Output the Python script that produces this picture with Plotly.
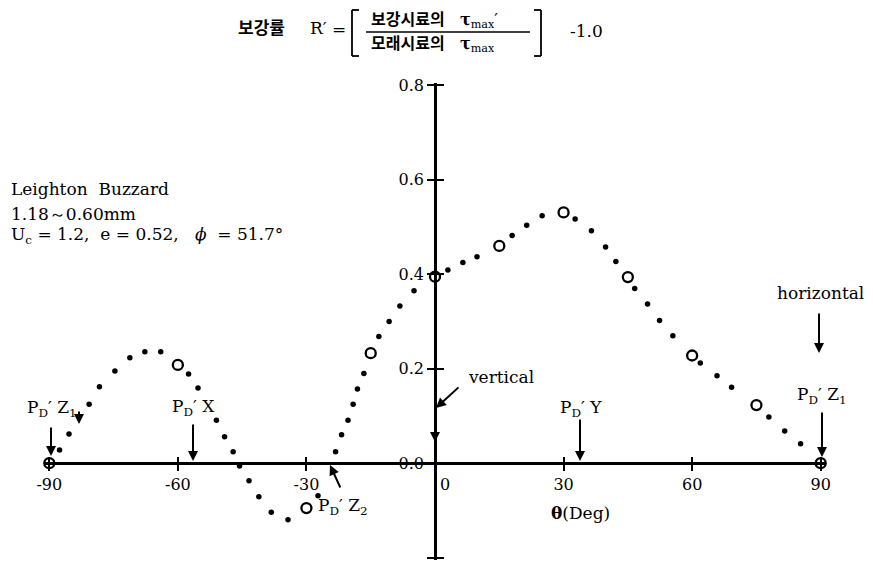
import plotly.graph_objects as go

# measured points (open circles)
theta_meas = [-90, -60, -30, -15, 0, 15, 30, 45, 60, 75, 90]
r_meas = [0.0, 0.208, -0.095, 0.233, 0.395, 0.46, 0.531, 0.394, 0.228, 0.123, 0.0]

# dotted trend (small filled dots)
theta_dots = [-87.6, -85.4, -80.7, -78.3, -74.7, -71.2, -67.7, -64.0, -57.5, -55.3,
              -51.0, -49.1, -47.1, -45.6, -43.4, -41.1, -38.2, -34.3, -27.3, -23.2,
              -21.8, -20.3, -19.1, -18.1, -16.6, -13.1, -10.7, -8.2, -4.9, 3.0,
              6.5, 9.8, 18.0, 21.4, 25.0, 32.7, 36.5, 39.8, 42.2, 46.6,
              49.6, 52.4, 55.5, 61.9, 65.8, 69.2, 77.9, 81.6, 85.3]
r_dots = [0.028, 0.062, 0.125, 0.162, 0.195, 0.223, 0.236, 0.236, 0.189, 0.159,
          0.091, 0.056, 0.024, -0.006, -0.037, -0.071, -0.104, -0.120, -0.069, 0.024,
          0.060, 0.091, 0.125, 0.157, 0.190, 0.268, 0.300, 0.333, 0.365, 0.409,
          0.425, 0.437, 0.482, 0.504, 0.524, 0.517, 0.492, 0.458, 0.427, 0.370,
          0.337, 0.302, 0.270, 0.212, 0.185, 0.161, 0.098, 0.068, 0.041]

x_ticks = [-90, -60, -30, 0, 30, 60, 90]
x_ticktext = ["-90", "-60", "-30", "\u00a0\u00a0\u00a0\u00a00", "30", "60", "90"]
y_ticks = [-0.2, 0.0, 0.2, 0.4, 0.6, 0.8]
y_ticktext = ["-0.2", "0.0", "0.2", "0.4", "0.6", "0.8"]

# page body has an 8px margin, so the figure is drawn 8px in from the corner
OX, OY = 8, 8
W, H = 865, 553
L, R, T, B = 37, 48, 75, 1
XR = [-91, 91]
YR = [-0.205, 0.805]
SERIF = "DejaVu Serif"
KR = "DejaVu Serif, Noto Sans CJK KR"


def px(x):
    # screen pixel -> paper
    return (x - OX - L) / (W - L - R)


def py(y):
    return 1 - (y - OY - T) / (H - T - B)


fig = go.Figure()
fig.add_trace(go.Scatter(x=theta_dots, y=r_dots, mode="markers",
                         marker=dict(size=5.5, color="black"),
                         cliponaxis=False, showlegend=False))
fig.add_trace(go.Scatter(x=theta_meas, y=r_meas, mode="markers",
                         marker=dict(size=10, color="white", symbol="circle",
                                     line=dict(color="black", width=2.3)),
                         cliponaxis=False, showlegend=False))
# empty trace so the overlay axes (inside tick marks) get drawn
fig.add_trace(go.Scatter(x=[], y=[], xaxis="x2", yaxis="y2", showlegend=False))

xpos = (0 - YR[0]) / (YR[1] - YR[0])
ypos = (0 - XR[0]) / (XR[1] - XR[0])

axfont = dict(family=SERIF, size=16, color="black")
fig.update_layout(
    width=W, height=H,
    margin=dict(l=L, r=R, t=T, b=B),
    plot_bgcolor="white", paper_bgcolor="white",
    xaxis=dict(range=XR, anchor="free", position=xpos, showgrid=False,
               zeroline=False, showline=True, linecolor="black", linewidth=2.5,
               ticks="outside", ticklen=6, tickwidth=2, tickcolor="black",
               tickvals=x_ticks, ticktext=x_ticktext, tickfont=axfont),
    yaxis=dict(range=YR, anchor="free", position=ypos, showgrid=False,
               zeroline=False, showline=True, linecolor="black", linewidth=2.5,
               ticks="outside", ticklen=7, tickwidth=2, tickcolor="black",
               tickvals=y_ticks, ticktext=y_ticktext, tickfont=axfont),
    xaxis2=dict(range=XR, overlaying="x", anchor="free", position=xpos,
                showgrid=False, zeroline=False, showline=False,
                ticks="inside", ticklen=6, tickwidth=2, tickcolor="black",
                tickvals=x_ticks, showticklabels=False),
    yaxis2=dict(range=YR, overlaying="y", anchor="free", position=ypos,
                showgrid=False, zeroline=False, showline=False,
                ticks="inside", ticklen=8, tickwidth=2, tickcolor="black",
                tickvals=y_ticks, showticklabels=False),
)


def label(text, x, y, size=17, xanchor="center", family=SERIF):
    fig.add_annotation(text=text, x=px(x), y=py(y), xref="paper", yref="paper",
                       xanchor=xanchor, yanchor="middle", showarrow=False,
                       font=dict(family=family, size=size, color="black"))


def arrow(x0, y0, x1, y1):
    # tail (x0, y0) -> head (x1, y1), screen pixels
    fig.add_annotation(text="", x=px(x1), y=py(y1), xref="paper", yref="paper",
                       ax=x0 - x1, ay=y0 - y1, showarrow=True,
                       arrowhead=2, arrowsize=1, arrowwidth=2,
                       arrowcolor="black", standoff=0)


# title: 보강률 R' = [ 보강시료의 τmax' / 모래시료의 τmax ] -1.0
label("<b>보강률</b>", 236, 28, size=17, xanchor="left", family=KR)
label("R\u2032", 308, 28, size=17, xanchor="left")
label("=", 330, 29, size=17, xanchor="left")
label("<b>보강시료의</b>\u00a0\u00a0\u00a0<b>τ</b><sub>max</sub>\u2032", 369, 21, size=16,
      xanchor="left", family=KR)
label("<b>모래시료의</b>\u00a0\u00a0\u00a0<b>τ</b><sub>max</sub>", 369, 45, size=16,
      xanchor="left", family=KR)
label("-1.0", 568, 31, size=17, xanchor="left")

bracket = dict(color="black", width=1.8)
for xs, xe in [(352, 359), (541, 534)]:
    fig.add_shape(type="line", xref="paper", yref="paper",
                  x0=px(xs), x1=px(xs), y0=py(10), y1=py(56), line=bracket)
    fig.add_shape(type="line", xref="paper", yref="paper",
                  x0=px(xs), x1=px(xe), y0=py(10), y1=py(10), line=bracket)
    fig.add_shape(type="line", xref="paper", yref="paper",
                  x0=px(xs), x1=px(xe), y0=py(56), y1=py(56), line=bracket)
fig.add_shape(type="line", xref="paper", yref="paper",
              x0=px(366), x1=px(530), y0=py(32), y1=py(32),
              line=dict(color="black", width=1.5))

# sample description
label("Leighton  Buzzard", 9, 189, xanchor="left")
label("1.18\uff5e0.60mm", 9, 214, xanchor="left")
label("U<sub>c</sub> = 1.2,  e = 0.52,   <i>ϕ</i>  = 51.7°", 9, 236, xanchor="left")

# axis title
label("<b>θ</b>(Deg)", 580, 513)

# direction labels and arrows
label("P<sub>D</sub>\u2032 Z<sub>1</sub>", 52, 408)
arrow(51, 426, 51, 456)
arrow(79, 410, 79, 424)

label("P<sub>D</sub>\u2032 X", 193, 407)
arrow(193, 423, 193, 461)

label("P<sub>D</sub>\u2032 Z<sub>2</sub>", 343, 506)
arrow(341, 489, 330, 465)

label("vertical", 466, 377, xanchor="left")
arrow(460, 386, 436, 408)
arrow(435, 413, 435, 442)

label("P<sub>D</sub>\u2032 Y", 581, 408)
arrow(580, 418, 580, 461)

label("horizontal", 820, 293)
arrow(819, 312, 819, 353)

label("P<sub>D</sub>\u2032 Z<sub>1</sub>", 822, 395)
arrow(822, 411, 822, 457)

fig.write_html("out.html")
